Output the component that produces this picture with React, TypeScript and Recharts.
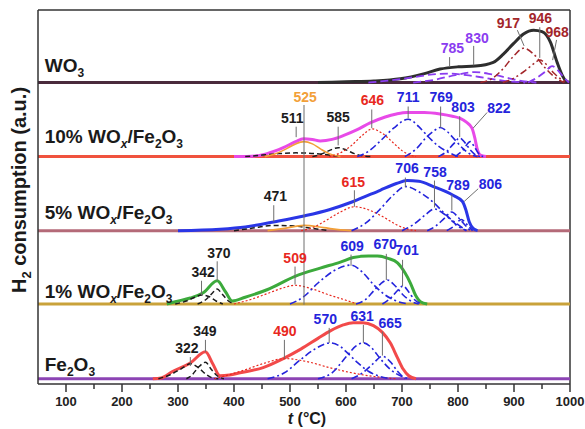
import React from "react";
import { ComposedChart, Line, Scatter, XAxis, YAxis, ReferenceLine } from "recharts";

// temperature axis ticks (°C); every 100 is labelled, the 50s are minor
const TEMP_TICKS = [100, 150, 200, 250, 300, 350, 400, 450, 500, 550, 600, 650, 700, 750, 800, 850, 900, 950, 1000];

// each profile sits on its own baseline in a 0–500 stack
const STACK_BASE = { wo3: 403, w10: 304, w5: 205, w1: 107, fe: 7 };

// TPR profiles, [t (°C), H2 consumption (a.u.)]
const FE_TOTAL = [[255, 0], [270, 1], [291, 10], [322, 21], [349, 36], [362, 20], [375, 4], [392, 5], [411, 8], [452, 15], [488, 27], [520, 40], [550, 54], [572, 64], [595, 72], [613, 75], [630, 75], [649, 71], [665, 62], [679, 48], [692, 28], [702, 13], [712, 4], [725, 0]];
const FE_322 = [[265, 0], [285, 5], [305, 13], [322, 20], [336, 15], [350, 6], [362, 1], [372, 0]];
const FE_349 = [[315, 0], [325, 5], [336, 15], [349, 22], [360, 12], [370, 4], [382, 0]];
const FE_490 = [[365, 0], [385, 4], [420, 12], [455, 21], [490, 27], [530, 23], [570, 15], [610, 8], [650, 3], [690, 0]];
const FE_570 = [[460, 0], [490, 8], [518, 25], [545, 40], [572, 48], [590, 43], [602, 35], [620, 22], [640, 10], [661, 3], [680, 0]];
const FE_631 = [[550, 0], [575, 8], [602, 31], [618, 44], [631, 48], [645, 42], [661, 27], [680, 12], [700, 3], [712, 0]];
const FE_665 = [[610, 0], [630, 8], [648, 20], [665, 30], [680, 22], [692, 10], [705, 0]];

const W1_TOTAL = [[280, 0], [295, 3], [322, 8], [345, 15], [370, 31], [385, 16], [397, 4], [420, 9], [459, 19], [509, 37], [554, 48], [590, 56], [613, 62], [640, 64], [656, 64], [675, 61], [692, 55], [705, 42], [715, 28], [724, 12], [733, 3], [745, 0]];
const W1_342 = [[295, 0], [315, 4], [330, 9], [342, 12], [355, 10], [368, 4], [380, 0]];
const W1_370 = [[335, 0], [350, 6], [362, 15], [370, 20], [378, 14], [390, 4], [400, 0]];
const W1_509 = [[400, 0], [430, 6], [460, 14], [490, 22], [509, 25], [540, 20], [570, 12], [600, 5], [620, 0]];
const W1_609 = [[500, 0], [525, 10], [550, 28], [580, 45], [609, 52], [630, 42], [649, 26], [670, 12], [690, 4], [710, 0]];
const W1_670 = [[618, 0], [635, 6], [650, 18], [662, 27], [674, 32], [688, 24], [702, 12], [718, 3], [730, 0]];
const W1_701 = [[665, 0], [680, 8], [692, 18], [702, 24], [712, 16], [722, 6], [735, 0]];

const W5_TOTAL = [[300, 0], [375, 2], [420, 5], [473, 12], [527, 20], [570, 28], [613, 39], [661, 54], [690, 63], [709, 67], [730, 66], [756, 59], [792, 47], [808, 39], [814, 28], [820, 12], [827, 3], [835, 0]];
const W5_471 = [[400, 0], [430, 3], [471, 7], [510, 6], [540, 3], [570, 0]];
const W5_525 = [[460, 0], [490, 3], [525, 7], [560, 4], [590, 1], [610, 0]];
const W5_615 = [[520, 0], [540, 4], [565, 14], [590, 25], [615, 32], [640, 28], [665, 19], [690, 8], [710, 2], [725, 0]];
const W5_706 = [[610, 0], [635, 10], [660, 28], [685, 48], [706, 59], [730, 52], [756, 38], [780, 20], [800, 8], [815, 0]];
const W5_758 = [[700, 0], [720, 8], [740, 20], [758, 29], [772, 24], [788, 14], [800, 6], [815, 0]];
const W5_789 = [[745, 0], [760, 6], [775, 16], [789, 25], [800, 18], [812, 8], [822, 0]];
const W5_806 = [[780, 0], [793, 6], [806, 15], [815, 9], [826, 0]];

const W10_TOTAL = [[400, 0], [440, 1], [459, 4], [488, 12], [510, 20], [524, 24], [540, 23], [554, 21], [575, 23], [595, 28], [620, 36], [643, 45], [670, 53], [690, 57], [709, 59], [740, 59], [768, 57], [790, 54], [804, 51], [815, 46], [825, 38], [830, 25], [834, 11], [840, 2], [850, 0]];
const W10_511 = [[420, 0], [450, 2], [480, 4], [511, 5], [545, 4], [570, 2], [590, 0]];
const W10_525 = [[455, 0], [475, 4], [495, 11], [510, 17], [525, 20], [540, 17], [555, 10], [570, 4], [590, 0]];
const W10_585 = [[540, 0], [555, 3], [570, 8], [586, 12], [600, 9], [615, 4], [630, 1], [645, 0]];
const W10_646 = [[570, 0], [590, 5], [610, 15], [630, 29], [647, 37], [665, 31], [685, 18], [700, 8], [715, 2], [725, 0]];
const W10_711 = [[620, 0], [640, 7], [660, 20], [685, 38], [711, 50], [730, 40], [745, 28], [765, 14], [785, 5], [800, 0]];
const W10_769 = [[705, 0], [725, 10], [745, 27], [758, 35], [768, 39], [780, 34], [795, 22], [810, 10], [825, 2], [835, 0]];
const W10_803 = [[765, 0], [780, 7], [792, 17], [803, 25], [812, 19], [822, 9], [832, 2], [840, 0]];
const W10_822 = [[795, 0], [808, 8], [822, 20], [830, 12], [838, 3], [845, 0]];

const WO3_TOTAL = [[550, 0], [600, 1], [650, 2], [697, 5], [740, 12], [768, 18], [800, 21], [831, 22], [863, 27], [881, 38], [899, 52], [917, 65], [935, 70], [950, 68], [965, 54], [977, 27], [986, 10], [993, 2], [1000, 0]];
const WO3_785 = [[640, 0], [680, 3], [720, 7], [755, 11], [785, 12], [815, 10], [850, 6], [885, 2], [920, 0]];
const WO3_830 = [[720, 0], [760, 4], [795, 10], [830, 14], [860, 11], [890, 6], [915, 2], [940, 0]];
const WO3_917 = [[840, 0], [860, 5], [880, 18], [900, 36], [917, 46], [935, 38], [955, 20], [975, 6], [990, 0]];
const WO3_946 = [[880, 0], [900, 6], [920, 16], [935, 25], [946, 30], [958, 24], [972, 12], [985, 4], [998, 0]];
const WO3_968 = [[925, 0], [940, 6], [955, 14], [968, 22], [980, 15], [990, 6], [998, 0]];

// sample names, drawn with sub-scripts ([text, 1] = subscript, [text, 2] = italic subscript)
const SAMPLE_NAMES = [
  { stack: "wo3", parts: [["WO", 0], ["3", 1]] },
  { stack: "w10", parts: [["10% WO", 0], ["x", 2], ["/Fe", 0], ["2", 1], ["O", 0], ["3", 1]] },
  { stack: "w5", parts: [["5% WO", 0], ["x", 2], ["/Fe", 0], ["2", 1], ["O", 0], ["3", 1]] },
  { stack: "w1", parts: [["1% WO", 0], ["x", 2], ["/Fe", 0], ["2", 1], ["O", 0], ["3", 1]] },
  { stack: "fe", parts: [["Fe", 0], ["2", 1], ["O", 0], ["3", 1]] },
];
const NAME_POS = { wo3: [62, 417], w10: [62, 322], w5: [62, 220], w1: [62, 115], fe: [62, 17] };

// peak temperatures and where their tags sit: label anchor, leader start, leader end (t, stack units)
const PEAK_TAGS = [
  { peak: 785, hue: "violet", at: [790, 442], from: [785, 437], to: [785, 424] },
  { peak: 830, hue: "violet", at: [834, 456], from: [828, 452], to: [828, 426] },
  { peak: 917, hue: "maroon", at: [890, 476], from: [906, 473], to: [918, 452] },
  { peak: 946, hue: "maroon", at: [947, 483], from: [946, 477], to: [946, 436] },
  { peak: 968, hue: "maroon", at: [977, 464], from: [976, 460], to: [969, 433] },
  { peak: 525, hue: "orange", at: [527, 377], from: [525, 373], to: [525, 106] },
  { peak: 511, hue: "black", at: [504, 349], from: [511, 344], to: [511, 330] },
  { peak: 585, hue: "black", at: [586, 350], from: [586, 344], to: [586, 319] },
  { peak: 646, hue: "red", at: [647, 373], from: [646, 367], to: [646, 342] },
  { peak: 711, hue: "blue", at: [711, 377], from: [711, 371], to: [711, 355] },
  { peak: 769, hue: "blue", at: [770, 377], from: [769, 371], to: [769, 343] },
  { peak: 803, hue: "blue", at: [809, 363], from: [803, 358], to: [803, 330] },
  { peak: 822, hue: "blue", at: [873, 362], from: [852, 363], to: [827, 342] },
  { peak: 471, hue: "black", at: [474, 244], from: [471, 239], to: [471, 217] },
  { peak: 615, hue: "red", at: [613, 264], from: [615, 259], to: [615, 237] },
  { peak: 706, hue: "blue", at: [709, 282], from: [706, 276], to: [706, 263] },
  { peak: 758, hue: "blue", at: [759, 277], from: [758, 272], to: [758, 236] },
  { peak: 789, hue: "blue", at: [800, 259], from: [789, 253], to: [789, 232] },
  { peak: 806, hue: "blue", at: [858, 261], from: [836, 261], to: [811, 244] },
  { peak: 342, hue: "black", at: [345, 143], from: [342, 138], to: [342, 119] },
  { peak: 370, hue: "black", at: [373, 169], from: [370, 164], to: [370, 138] },
  { peak: 509, hue: "red", at: [509, 162], from: [509, 157], to: [509, 133] },
  { peak: 609, hue: "blue", at: [611, 178], from: [609, 173], to: [609, 158] },
  { peak: 670, hue: "blue", at: [670, 180], from: [672, 174], to: [672, 139] },
  { peak: 701, hue: "blue", at: [709, 172], from: [701, 166], to: [701, 131] },
  { peak: 322, hue: "black", at: [316, 42], from: [322, 36], to: [322, 24] },
  { peak: 349, hue: "black", at: [348, 64], from: [349, 59], to: [349, 43] },
  { peak: 490, hue: "red", at: [491, 64], from: [490, 59], to: [490, 34] },
  { peak: 570, hue: "blue", at: [563, 80], from: [570, 75], to: [570, 55] },
  { peak: 631, hue: "blue", at: [629, 84], from: [631, 79], to: [631, 55] },
  { peak: 665, hue: "blue", at: [679, 75], from: [665, 70], to: [665, 38] },
];

const FONT = "'Liberation Sans', Arial, sans-serif";
const HUES: Record<string, string> = {
  black: "#1c1c1c",
  red: "#e8281e",
  blue: "#2424dc",
  orange: "#f2a038",
  violet: "#8a3cf0",
  maroon: "#a3262a",
};

// line styles
const DASH = "5 3";
const DOTS = "2 2";
const DASH_DOT = "7 3 2 3";
const DASH_DOT_DOT = "7 3 2 3 2 3";
const LONG_DASH = "8 4";

const BASELINES = [
  { stack: "wo3", stroke: "#4a2a3c" },
  { stack: "w10", stroke: "#f0523e" },
  { stack: "w5", stroke: "#b46a78" },
  { stack: "w1", stroke: "#c9a23a" },
  { stack: "fe", stroke: "#8c44b4" },
];

const TOTALS = [
  { stack: "wo3", pts: WO3_TOTAL, stroke: "#2e2e2e" },
  { stack: "w10", pts: W10_TOTAL, stroke: "#e84ae8" },
  { stack: "w5", pts: W5_TOTAL, stroke: "#2a36e6" },
  { stack: "w1", pts: W1_TOTAL, stroke: "#3caa3c" },
  { stack: "fe", pts: FE_TOTAL, stroke: "#f24a4a" },
];

const COMPONENTS = [
  { stack: "wo3", pts: WO3_785, stroke: HUES.violet, dash: LONG_DASH, w: 1.8 },
  { stack: "wo3", pts: WO3_830, stroke: HUES.violet, dash: LONG_DASH, w: 1.8 },
  { stack: "wo3", pts: WO3_917, stroke: HUES.maroon, dash: DASH_DOT, w: 1.5 },
  { stack: "wo3", pts: WO3_946, stroke: HUES.maroon, dash: DASH_DOT_DOT, w: 1.5 },
  { stack: "wo3", pts: WO3_968, stroke: HUES.violet, dash: LONG_DASH, w: 1.8 },
  { stack: "w10", pts: W10_511, stroke: HUES.black, dash: DASH, w: 1.5 },
  { stack: "w10", pts: W10_525, stroke: HUES.orange, dash: undefined, w: 1.6 },
  { stack: "w10", pts: W10_585, stroke: HUES.black, dash: DASH, w: 1.5 },
  { stack: "w10", pts: W10_646, stroke: HUES.red, dash: DOTS, w: 1.2 },
  { stack: "w10", pts: W10_711, stroke: HUES.blue, dash: DASH_DOT, w: 1.6 },
  { stack: "w10", pts: W10_769, stroke: HUES.blue, dash: DASH_DOT, w: 1.6 },
  { stack: "w10", pts: W10_803, stroke: HUES.blue, dash: DASH_DOT, w: 1.6 },
  { stack: "w10", pts: W10_822, stroke: HUES.blue, dash: DASH_DOT, w: 1.6 },
  { stack: "w5", pts: W5_471, stroke: HUES.black, dash: DASH, w: 1.5 },
  { stack: "w5", pts: W5_525, stroke: HUES.orange, dash: undefined, w: 1.6 },
  { stack: "w5", pts: W5_615, stroke: HUES.red, dash: DOTS, w: 1.2 },
  { stack: "w5", pts: W5_706, stroke: HUES.blue, dash: DASH_DOT, w: 1.6 },
  { stack: "w5", pts: W5_758, stroke: HUES.blue, dash: DASH_DOT, w: 1.6 },
  { stack: "w5", pts: W5_789, stroke: HUES.blue, dash: DASH_DOT, w: 1.6 },
  { stack: "w5", pts: W5_806, stroke: HUES.blue, dash: DASH_DOT, w: 1.6 },
  { stack: "w1", pts: W1_342, stroke: HUES.black, dash: DASH, w: 1.5 },
  { stack: "w1", pts: W1_370, stroke: HUES.black, dash: DASH, w: 1.5 },
  { stack: "w1", pts: W1_509, stroke: HUES.red, dash: DOTS, w: 1.2 },
  { stack: "w1", pts: W1_609, stroke: HUES.blue, dash: DASH_DOT, w: 1.6 },
  { stack: "w1", pts: W1_670, stroke: HUES.blue, dash: DASH_DOT, w: 1.6 },
  { stack: "w1", pts: W1_701, stroke: HUES.blue, dash: DASH_DOT, w: 1.6 },
  { stack: "fe", pts: FE_322, stroke: HUES.black, dash: DASH, w: 1.5 },
  { stack: "fe", pts: FE_349, stroke: HUES.black, dash: DASH, w: 1.5 },
  { stack: "fe", pts: FE_490, stroke: HUES.red, dash: DOTS, w: 1.2 },
  { stack: "fe", pts: FE_570, stroke: HUES.blue, dash: DASH_DOT, w: 1.6 },
  { stack: "fe", pts: FE_631, stroke: HUES.blue, dash: DASH_DOT, w: 1.6 },
  { stack: "fe", pts: FE_665, stroke: HUES.blue, dash: DASH_DOT, w: 1.6 },
];

const lift = (stack: string, pts: number[][]) =>
  pts.map(([t, v]) => ({ t, y: STACK_BASE[stack] + v }));

const tagData = PEAK_TAGS.map((p) => ({ t: p.at[0], y: p.at[1], text: String(p.peak), hue: p.hue }));
const nameData = SAMPLE_NAMES.map((s) => ({ t: NAME_POS[s.stack][0], y: NAME_POS[s.stack][1], parts: s.parts }));

function TempTick({ x, y, payload }: any) {
  const major = payload.value % 100 === 0;
  return (
    <g>
      <line x1={x} x2={x} y1={y} y2={y + (major ? 8 : 5)} stroke="#333" strokeWidth={1.5} />
      {major && (
        <text x={x} y={y + 22} textAnchor="middle" fontSize={13} fontWeight="bold" fill="#222" fontFamily={FONT}>
          {payload.value}
        </text>
      )}
    </g>
  );
}

const PeakText = (p: any) => (
  <text x={p.cx} y={p.cy} textAnchor="middle" fontSize={14} fontWeight="bold" fill={HUES[p.payload.hue]} fontFamily={FONT}>
    {p.payload.text}
  </text>
);

const SampleText = (p: any) => {
  let prev = 0;
  return (
    <text x={p.cx} y={p.cy} fontSize={19} fontWeight="bold" fill="#1a1a1a" fontFamily={FONT}>
      {p.payload.parts.map(([s, kind]: [string, number], i: number) => {
        const level = kind > 0 ? 1 : 0;
        const dy = (level - prev) * 5;
        prev = level;
        return (
          <tspan key={i} dy={dy} fontSize={level ? 12 : 19} fontStyle={kind === 2 ? "italic" : "normal"}>
            {s}
          </tspan>
        );
      })}
    </text>
  );
};

const YTitle = ({ viewBox }: any) => {
  const cx = 26;
  const cy = viewBox.y + 180;
  return (
    <text x={cx} y={cy} transform={`rotate(-90, ${cx}, ${cy})`} textAnchor="middle" fontSize={20} fontWeight="bold" fill="#1a1a1a" fontFamily={FONT}>
      <tspan>H</tspan>
      <tspan fontSize={13} dy={5}>2</tspan>
      <tspan dy={-5}> consumption (a.u.)</tspan>
    </text>
  );
};

const XTitle = ({ viewBox }: any) => {
  const cx = viewBox.x + viewBox.width / 2 + 3;
  return (
    <text x={cx} y={viewBox.y + 40} textAnchor="middle" fontSize={16} fontWeight="bold" fill="#1a1a1a" fontFamily={FONT}>
      <tspan fontStyle="italic">t</tspan>
      <tspan> (°C)</tspan>
    </text>
  );
};

export default function App() {
  return (
    <div style={{ width: 585, height: 429, background: "#fff" }}>
      <style>{"body{margin:0;overflow:hidden}"}</style>
      <ComposedChart width={585} height={429} margin={{ top: 10, right: 15, bottom: 0, left: 0 }}>
        <XAxis
          dataKey="t"
          type="number"
          domain={[50, 1000]}
          allowDataOverflow
          ticks={TEMP_TICKS}
          interval={0}
          tickSize={0}
          tickMargin={0}
          tickLine={false}
          tick={<TempTick />}
          height={45}
          axisLine={{ stroke: "#333", strokeWidth: 1.5 }}
          label={XTitle}
        />
        <YAxis
          type="number"
          domain={[0, 500]}
          allowDataOverflow
          width={38}
          tick={false}
          tickLine={false}
          axisLine={{ stroke: "#333", strokeWidth: 1.5 }}
          label={YTitle}
        />
        <ReferenceLine y={500} stroke="#333" strokeWidth={1.5} />
        <ReferenceLine x={1000} stroke="#333" strokeWidth={1.5} />

        {BASELINES.map((b) => (
          <Line
            key={"base-" + b.stack}
            data={lift(b.stack, [[50, 0], [1000, 0]])}
            dataKey="y"
            stroke={b.stroke}
            strokeWidth={3}
            dot={false}
            isAnimationActive={false}
          />
        ))}
        {TOTALS.map((s) => (
          <Line
            key={"total-" + s.stack}
            data={lift(s.stack, s.pts)}
            dataKey="y"
            type="monotone"
            stroke={s.stroke}
            strokeWidth={3}
            dot={false}
            isAnimationActive={false}
          />
        ))}
        {COMPONENTS.map((c, i) => (
          <Line
            key={"peak-" + i}
            data={lift(c.stack, c.pts)}
            dataKey="y"
            type="monotone"
            stroke={c.stroke}
            strokeWidth={c.w}
            strokeDasharray={c.dash}
            dot={false}
            isAnimationActive={false}
          />
        ))}
        {PEAK_TAGS.map((p) => (
          <Line
            key={"lead-" + p.peak}
            data={[{ t: p.from[0], y: p.from[1] }, { t: p.to[0], y: p.to[1] }]}
            dataKey="y"
            stroke="#6e6e6e"
            strokeWidth={1}
            dot={false}
            isAnimationActive={false}
          />
        ))}
        <Scatter data={tagData} dataKey="y" shape={PeakText} isAnimationActive={false} legendType="none" />
        <Scatter data={nameData} dataKey="y" shape={SampleText} isAnimationActive={false} legendType="none" />
      </ComposedChart>
    </div>
  );
}
